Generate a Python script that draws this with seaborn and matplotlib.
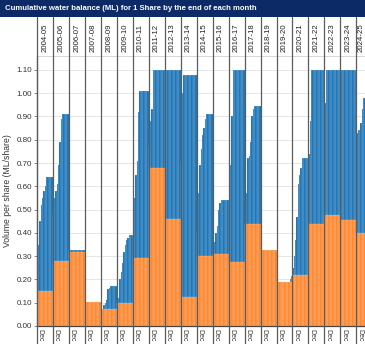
import matplotlib
matplotlib.use("Agg")
import matplotlib.pyplot as plt
import matplotlib.transforms as mtransforms
from matplotlib.patches import Rectangle
import seaborn as sns
import pandas as pd

# ---------------- data ----------------
years = ["2004-05", "2005-06", "2006-07", "2007-08", "2008-09", "2009-10", "2010-11",
         "2011-12", "2012-13", "2013-14", "2014-15", "2015-16", "2016-17", "2017-18",
         "2018-19", "2019-20", "2020-21", "2021-22", "2022-23", "2023-24", "2024-25"]

# carryover (orange) per water year, ML/share
carryover = [0.15, 0.28, 0.32, 0.105, 0.075, 0.10, 0.29, 0.68, 0.46, 0.125, 0.30,
             0.31, 0.275, 0.44, 0.325, 0.19, 0.22, 0.44, 0.475, 0.455, 0.40]

# cumulative balance at end of each month (total bar height), ML/share
total_2004_05 = [0.15, 0.35, 0.45, 0.52, 0.55, 0.58, 0.60, 0.64, 0.64, 0.64, 0.64, 0.64]
total_2005_06 = [0.48, 0.55, 0.58, 0.61, 0.69, 0.79, 0.89, 0.91, 0.91, 0.91, 0.91, 0.91]
total_2006_07 = [0.325, 0.325, 0.325, 0.325, 0.325, 0.325, 0.325, 0.325, 0.325, 0.325, 0.325, 0.325]
total_2007_08 = [0.105, 0.105, 0.105, 0.105, 0.105, 0.105, 0.105, 0.105, 0.105, 0.105, 0.105, 0.105]
total_2008_09 = [0.075, 0.075, 0.09, 0.10, 0.11, 0.16, 0.165, 0.17, 0.17, 0.17, 0.17, 0.17]
total_2009_10 = [0.10, 0.12, 0.20, 0.23, 0.27, 0.32, 0.35, 0.37, 0.38, 0.39, 0.39, 0.39]
total_2010_11 = [0.40, 0.55, 0.65, 0.71, 0.92, 1.01, 1.01, 1.01, 1.01, 1.01, 1.01, 1.01]
total_2011_12 = [0.77, 0.88, 0.93, 1.10, 1.10, 1.10, 1.10, 1.10, 1.10, 1.10, 1.10, 1.10]
total_2012_13 = [1.10, 1.10, 1.10, 1.10, 1.10, 1.10, 1.10, 1.10, 1.10, 1.10, 1.10, 1.10]
total_2013_14 = [0.70, 1.00, 1.08, 1.08, 1.08, 1.08, 1.08, 1.08, 1.08, 1.08, 1.08, 1.08]
total_2014_15 = [0.40, 0.57, 0.69, 0.76, 0.82, 0.85, 0.89, 0.91, 0.91, 0.91, 0.91, 0.91]
total_2015_16 = [0.31, 0.36, 0.40, 0.43, 0.50, 0.53, 0.54, 0.54, 0.54, 0.54, 0.54, 0.54]
total_2016_17 = [0.60, 0.69, 0.90, 1.10, 1.10, 1.10, 1.10, 1.10, 1.10, 1.10, 1.10, 1.10]
total_2017_18 = [0.44, 0.57, 0.72, 0.73, 0.79, 0.90, 0.93, 0.945, 0.945, 0.945, 0.945, 0.945]
total_2018_19 = [0.325, 0.325, 0.325, 0.325, 0.325, 0.325, 0.325, 0.325, 0.325, 0.325, 0.325, 0.325]
total_2019_20 = [0.19, 0.19, 0.19, 0.19, 0.19, 0.19, 0.19, 0.19, 0.19, 0.19, 0.20, 0.215]
total_2020_21 = [0.25, 0.30, 0.37, 0.47, 0.61, 0.65, 0.68, 0.72, 0.72, 0.72, 0.72, 0.72]
total_2021_22 = [0.74, 0.88, 1.10, 1.10, 1.10, 1.10, 1.10, 1.10, 1.10, 1.10, 1.10, 1.10]
total_2022_23 = [0.96, 1.10, 1.10, 1.10, 1.10, 1.10, 1.10, 1.10, 1.10, 1.10, 1.10, 1.10]
total_2023_24 = [1.10, 1.10, 1.10, 1.10, 1.10, 1.10, 1.10, 1.10, 1.10, 1.10, 1.10, 1.10]
total_2024_25 = [0.83, 0.84, 0.84, 0.87, 0.93, 0.98, 0.98, 0.98]

yticks = [0.0, 0.1, 0.2, 0.3, 0.4, 0.5, 0.6, 0.7, 0.8, 0.9, 1.0, 1.1]
tick_month_label = "Dec"
title = "Cumulative water balance (ML) for 1 Share by the end of each month"
ylabel = "Volume per share (ML/share)"

all_totals = [total_2004_05, total_2005_06, total_2006_07, total_2007_08, total_2008_09,
              total_2009_10, total_2010_11, total_2011_12, total_2012_13, total_2013_14,
              total_2014_15, total_2015_16, total_2016_17, total_2017_18, total_2018_19,
              total_2019_20, total_2020_21, total_2021_22, total_2022_23, total_2023_24,
              total_2024_25]

rows = []
for yi, (yr, tot) in enumerate(zip(years, all_totals)):
    for mi, v in enumerate(tot):
        rows.append({"pos": yi * 12 + mi, "year": yr, "total": v, "carry": carryover[yi]})
df = pd.DataFrame(rows)

# ---------------- style ----------------
sns.set_style("white")
plt.rcParams["font.family"] = ["Liberation Sans", "DejaVu Sans"]

BLUE = "#0f6db3"
ORANGE = "#ff7f22"
NAVY = "#0c2a66"
SEP = "#5c5c5c"

W, H = 365, 344
fig = plt.figure(figsize=(W / 100, H / 100), dpi=100)
ax_left, ax_right, ax_bottom, ax_top = 36.7, 365, 326, 56
ax = fig.add_axes([ax_left / W, (H - ax_bottom) / H, (ax_right - ax_left) / W,
                   (ax_bottom - ax_top) / H])

sns.barplot(data=df, x="pos", y="total", color=BLUE, width=1.0, errorbar=None,
            edgecolor=(1, 1, 1, 0.38), linewidth=0.3, saturation=1, ax=ax)
sns.barplot(data=df, x="pos", y="carry", color=ORANGE, width=1.0, errorbar=None,
            edgecolor=(1, 1, 1, 0.38), linewidth=0.3, saturation=1, ax=ax)

xmax = (ax_right - ax_left) / (16.0 / 12.0) - 0.5 + 0.2
ax.set_xlim(-0.5, xmax)
ax.set_ylim(0, (ax_bottom - ax_top) / 232.8)

ax.set_yticks(yticks)
ax.set_yticklabels([f"{t:.2f}" for t in yticks], fontsize=5.8, color="#333333")
ax.yaxis.grid(True, color="#e6e6e6", linewidth=0.7)
ax.set_axisbelow(True)
ax.tick_params(axis="y", length=2, width=0.6, color="#777777", pad=1.5, left=True)

dec_pos = [yi * 12 + 2 for yi in range(len(years))]
ax.set_xticks(dec_pos)
ax.set_xticklabels([tick_month_label] * len(dec_pos), rotation=-90, fontsize=5.0,
                   color="#333333", va="top", ha="center")
ax.tick_params(axis="x", length=0, pad=2)
ax.set_xlabel("")
ax.set_ylabel(ylabel, fontsize=6.2, color="#333333", labelpad=3)

for s in ["top", "right"]:
    ax.spines[s].set_visible(False)
ax.spines["left"].set_color(SEP)
ax.spines["left"].set_linewidth(0.9)
ax.spines["bottom"].set_color("#444444")
ax.spines["bottom"].set_linewidth(0.9)

# top boundary of plot area
ax.axhline(ax.get_ylim()[1], color="#d0d0d0", linewidth=0.6, clip_on=False)

# year separators extending above and below plot
trans = mtransforms.blended_transform_factory(ax.transData, ax.transAxes)
y_lo = (ax_bottom - H) / (ax_bottom - ax_top)
y_hi = (ax_bottom - 17) / (ax_bottom - ax_top)
for yi in range(len(years)):
    xs = yi * 12 - 0.5
    ax.plot([xs, xs], [y_lo, y_hi], transform=trans, color=SEP, linewidth=0.9,
            clip_on=False, zorder=5)

# year labels above plot
y_lab = (ax_bottom - 38) / (ax_bottom - ax_top)
for yi, yr in enumerate(years):
    start = yi * 12 - 0.5
    end = min(start + 12, xmax)
    ax.text((start + end) / 2, y_lab, yr, transform=trans, rotation=90, fontsize=5.6,
            ha="center", va="center", color="#222222", clip_on=False)

# title banner
fig.patches.append(Rectangle((0, (H - 17) / H), 1, 17 / H, transform=fig.transFigure,
                             facecolor=NAVY, edgecolor="none", zorder=0))
fig.text(5 / W, (H - 8.5) / H, title, color="white", fontsize=5.6, fontweight="bold",
         ha="left", va="center")

fig.savefig("out.png", dpi=100)
